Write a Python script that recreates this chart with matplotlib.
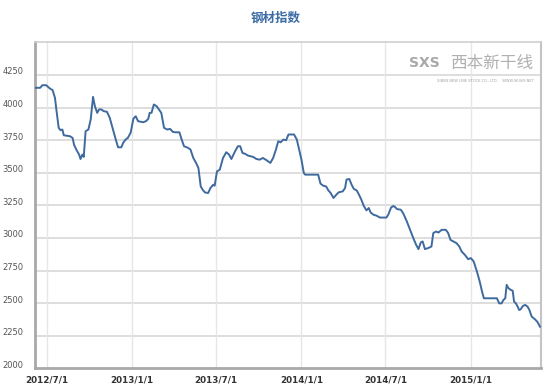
import matplotlib
matplotlib.use("Agg")
import matplotlib.pyplot as plt
import matplotlib.transforms as mtransforms
import pandas as pd

plt.rcParams['font.family'] = ['DejaVu Sans', 'Noto Sans CJK SC']

# 钢材指数 - weekly readings
dates = [
    "2012-06-06", "2012-06-17", "2012-06-22", "2012-06-30", "2012-07-08", "2012-07-14",
    "2012-07-19", "2012-07-22", "2012-07-27", "2012-07-31", "2012-08-04", "2012-08-07",
    "2012-08-20", "2012-08-26", "2012-08-29", "2012-09-03", "2012-09-09", "2012-09-12",
    "2012-09-16", "2012-09-19", "2012-09-23", "2012-09-29", "2012-10-04", "2012-10-09",
    "2012-10-13", "2012-10-18", "2012-10-22", "2012-10-27", "2012-11-01", "2012-11-08",
    "2012-11-14", "2012-11-21", "2012-11-27", "2012-12-02", "2012-12-09", "2012-12-13",
    "2012-12-18", "2012-12-23", "2012-12-29", "2013-01-04", "2013-01-09", "2013-01-14",
    "2013-01-25", "2013-01-31", "2013-02-05", "2013-02-08", "2013-02-12", "2013-02-17",
    "2013-02-23", "2013-02-28", "2013-03-05", "2013-03-11", "2013-03-18", "2013-03-24",
    "2013-03-30", "2013-04-04", "2013-04-13", "2013-04-18", "2013-04-23", "2013-05-02",
    "2013-05-07", "2013-05-13", "2013-05-19", "2013-05-24", "2013-05-29", "2013-06-02",
    "2013-06-07", "2013-06-14", "2013-06-19", "2013-06-25", "2013-06-28", "2013-07-03",
    "2013-07-09", "2013-07-16", "2013-07-23", "2013-07-29", "2013-08-03", "2013-08-10",
    "2013-08-17", "2013-08-22", "2013-08-27", "2013-09-01", "2013-09-08", "2013-09-19",
    "2013-09-26", "2013-10-03", "2013-10-10", "2013-10-18", "2013-10-26", "2013-11-01",
    "2013-11-07", "2013-11-12", "2013-11-17", "2013-11-23", "2013-11-29", "2013-12-04",
    "2013-12-16", "2013-12-22", "2013-12-27", "2014-01-01", "2014-01-06", "2014-01-09",
    "2014-02-06", "2014-02-11", "2014-02-17", "2014-02-23", "2014-02-28", "2014-03-05",
    "2014-03-11", "2014-03-17", "2014-03-22", "2014-03-31", "2014-04-05", "2014-04-08",
    "2014-04-14", "2014-04-19", "2014-04-24", "2014-04-30", "2014-05-05", "2014-05-10",
    "2014-05-15", "2014-05-21", "2014-05-26", "2014-05-30", "2014-06-05", "2014-06-12",
    "2014-06-19", "2014-07-03", "2014-07-07", "2014-07-13", "2014-07-18", "2014-07-22",
    "2014-07-26", "2014-08-03", "2014-08-08", "2014-08-16", "2014-08-23", "2014-08-30",
    "2014-09-05", "2014-09-10", "2014-09-15", "2014-09-19", "2014-09-24", "2014-10-01",
    "2014-10-08", "2014-10-12", "2014-10-18", "2014-10-23", "2014-10-30", "2014-11-08",
    "2014-11-13", "2014-11-18", "2014-11-24", "2014-12-01", "2014-12-07", "2014-12-12",
    "2014-12-19", "2014-12-26", "2015-01-01", "2015-01-07", "2015-01-14", "2015-01-20",
    "2015-01-25", "2015-01-29", "2015-02-26", "2015-03-03", "2015-03-08", "2015-03-12",
    "2015-03-16", "2015-03-19", "2015-03-23", "2015-03-28", "2015-04-01", "2015-04-04",
    "2015-04-08", "2015-04-11", "2015-04-15", "2015-04-18", "2015-04-23", "2015-04-28",
    "2015-05-03", "2015-05-07", "2015-05-12", "2015-05-19", "2015-05-24", "2015-05-30",
]
values = [
    4151, 4151, 4171, 4171, 4146, 4133,
    4074, 3985, 3844, 3826, 3831, 3787,
    3780, 3767, 3716, 3677, 3639, 3605,
    3639, 3621, 3818, 3831, 3908, 4082,
    4010, 3959, 3985, 3985, 3972, 3967,
    3921, 3831, 3754, 3695, 3695, 3729,
    3754, 3767, 3806, 3915, 3933, 3895,
    3887, 3895, 3913, 3959, 3959, 4023,
    4010, 3985, 3959, 3844, 3831, 3836,
    3813, 3810, 3810, 3754, 3703, 3690,
    3677, 3613, 3575, 3536, 3395, 3370,
    3349, 3344, 3383, 3408, 3400, 3510,
    3523, 3613, 3657, 3639, 3605, 3657,
    3703, 3703, 3651, 3646, 3631, 3621,
    3605, 3600, 3613, 3595, 3575, 3613,
    3677, 3741, 3733, 3754, 3749, 3793,
    3793, 3754, 3677, 3600, 3498, 3485,
    3485, 3416, 3400, 3395, 3364, 3344,
    3306, 3331, 3349, 3357, 3383, 3447,
    3452, 3408, 3375, 3364, 3331, 3293,
    3247, 3211, 3229, 3195, 3178, 3170,
    3156, 3156, 3178, 3233, 3245, 3235,
    3221, 3216, 3190, 3126, 3062, 2998,
    2947, 2914, 2965, 2973, 2914, 2922,
    2934, 3037, 3049, 3041, 3062, 3062,
    3037, 2985, 2973, 2960, 2934, 2896,
    2870, 2837, 2845, 2819, 2742, 2665,
    2588, 2537, 2537, 2498, 2498, 2524,
    2537, 2640, 2614, 2601, 2595, 2511,
    2498, 2478, 2447, 2452, 2478, 2486,
    2473, 2447, 2396, 2376, 2357, 2319,
]

x_ticks = ["2012-07-01", "2013-01-01", "2013-07-01", "2014-01-01", "2014-07-01", "2015-01-01"]
x_tick_labels = ["2012/7/1", "2013/1/1", "2013/7/1", "2014/1/1", "2014/7/1", "2015/1/1"]
y_ticks = [2000, 2250, 2500, 2750, 3000, 3250, 3500, 3750, 4000, 4250]

fig = plt.figure(figsize=(5.52, 3.85), dpi=100)
ax = fig.add_axes([35 / 552, 1 - 368.3 / 385, (541 - 35) / 552, (368.3 - 42.3) / 385])

ax.plot(pd.to_datetime(dates), values, color="#3f6a9e", linewidth=1.4, zorder=3)

ax.set_xlim(pd.Timestamp("2012-06-06"), pd.Timestamp("2015-06-01"))
ax.set_ylim(2000, 4500)
ax.set_yticks(y_ticks)
ax.set_xticks(pd.to_datetime(x_ticks))
ax.set_xticklabels(x_tick_labels)

# grid: horizontal a bit darker than vertical
for v in y_ticks[1:]:
    ax.axhline(v, color="#d4d4d4", linewidth=1.1, zorder=1)
for d in x_ticks:
    ax.axvline(pd.Timestamp(d), color="#e6e6e6", linewidth=1.0, zorder=1)

ax.spines["left"].set_color("#a8a8a8")
ax.spines["left"].set_linewidth(2)
ax.spines["bottom"].set_color("#a8a8a8")
ax.spines["bottom"].set_linewidth(2)
ax.spines["right"].set_color("#c4c4c4")
ax.spines["right"].set_linewidth(1.5)
ax.spines["top"].set_color("#d0d0d0")
ax.spines["top"].set_linewidth(1.2)

ax.tick_params(axis="both", length=0)
ax.tick_params(axis="y", pad=8, labelsize=6, labelcolor="#555555")
ax.tick_params(axis="x", pad=5, labelsize=6.3, labelcolor="#333333")
for lbl in ax.get_xticklabels():
    lbl.set_fontweight("bold")
# y labels sit a little above their grid line
shift = mtransforms.ScaledTranslation(0, 4 / 100, fig.dpi_scale_trans)
for lbl in ax.get_yticklabels():
    lbl.set_transform(lbl.get_transform() + shift)

fig.text(276 / 552, 1 - 18 / 385, "钢材指数", ha="center", va="center",
         fontsize=9, fontweight="bold", color="#3b6ca5", family=["Noto Sans CJK SC"])

# watermark
ax.text(0.985, 0.935, "西本新干线", transform=ax.transAxes, ha="right", va="center",
        fontsize=12, color="#b0b0b0", style="italic", family=["Noto Sans CJK SC"], zorder=2)
ax.text(0.77, 0.935, "SXS", transform=ax.transAxes, ha="center", va="center",
        fontsize=10, color="#a8a8a8", fontweight="bold", zorder=2)
ax.text(0.985, 0.88, "XIBEN NEW LINE STOCK CO., LTD.    WWW.96369.NET", transform=ax.transAxes,
        ha="right", va="center", fontsize=2.6, color="#a0a0a0", zorder=2)

fig.savefig("out.png", dpi=100, facecolor="white")
